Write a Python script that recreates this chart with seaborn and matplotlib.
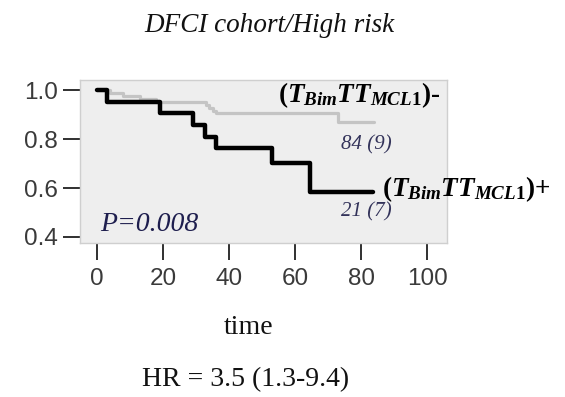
import matplotlib
matplotlib.use("Agg")
import matplotlib.pyplot as plt
import seaborn as sns
import pandas as pd

# ---- data ----
neg_time = [0, 4, 8, 13, 18, 33, 34, 35, 36, 73, 84]
neg_surv = [1.0, 0.988, 0.976, 0.964, 0.952, 0.940, 0.928, 0.916, 0.905, 0.868, 0.868]
pos_time = [0, 3, 19, 29, 32.7, 36, 53, 64.5, 83.5]
pos_surv = [1.0, 0.952, 0.905, 0.857, 0.810, 0.762, 0.702, 0.585, 0.585]
x_ticks = [0, 20, 40, 60, 80, 100]
y_ticks = [0.4, 0.6, 0.8, 1.0]
title = "DFCI cohort/High risk"
xlabel = "time"
hr_text = "HR = 3.5 (1.3-9.4)"
p_text = "P=0.008"
neg_count = "84 (9)"
pos_count = "21 (7)"

df = pd.concat([
    pd.DataFrame({"time": neg_time, "surv": neg_surv, "group": "neg"}),
    pd.DataFrame({"time": pos_time, "surv": pos_surv, "group": "pos"}),
])

sns.set_theme(style="white")
plt.rcParams["mathtext.fontset"] = "custom"
plt.rcParams["mathtext.it"] = "Liberation Serif:italic:bold"
plt.rcParams["mathtext.rm"] = "Liberation Serif:bold"
plt.rcParams["mathtext.bf"] = "Liberation Serif:bold"

fig = plt.figure(figsize=(5.65, 3.97), dpi=100)
ax = fig.add_axes([80/565, 1-243/397, (447-80)/565, (243-80)/397])
ax.set_facecolor("#eeeeee")

sns.lineplot(data=df[df.group == "neg"], x="time", y="surv", ax=ax,
             color="#c4c4c4", lw=2.3, drawstyle="steps-post", estimator=None)
sns.lineplot(data=df[df.group == "pos"], x="time", y="surv", ax=ax,
             color="black", lw=3.2, drawstyle="steps-post", estimator=None)

ax.set_xlim(-5.15, 106)
ax.set_ylim(0.3755, 1.041)
ax.set_xticks(x_ticks)
ax.set_yticks(y_ticks)
ax.set_xticklabels([str(v) for v in x_ticks])
ax.set_yticklabels([f"{v:.1f}" for v in y_ticks])
ax.set_xlabel("")
ax.set_ylabel("")
tickfont = ["Liberation Sans", "DejaVu Sans"]
for lab in ax.get_xticklabels() + ax.get_yticklabels():
    lab.set_family(tickfont)
    lab.set_fontsize(17.5)
    lab.set_color("#3a3a3a")
ax.tick_params(axis="both", direction="out", length=12, width=1.3, color="#202020",
               left=True, bottom=True)
ax.tick_params(axis="y", pad=4)
ax.tick_params(axis="x", pad=6)
for s in ax.spines.values():
    s.set_color("#cfcfcf")
    s.set_linewidth(1.0)

serif = ["Liberation Serif", "DejaVu Serif"]
ax.text(54.8, 0.978, r"$(T_{Bim}TT_{MCL1})$-", ha="left", va="center",
        fontsize=19.5, fontweight="bold", family=serif, color="black")
ax.text(86.4, 0.594, r"$(T_{Bim}TT_{MCL1})$+", ha="left", va="center",
        fontsize=19.5, fontweight="bold", family=serif, color="black", clip_on=False)
ax.text(81.5, 0.776, neg_count, ha="center", va="center", fontsize=15,
        style="italic", family=serif, color="#33335a")
ax.text(81.5, 0.502, pos_count, ha="center", va="center", fontsize=15,
        style="italic", family=serif, color="#33335a")
ax.text(15.8, 0.453, p_text, ha="center", va="center", fontsize=20,
        style="italic", family=serif, color="#1e1e4e")

fig.text(269/565, 1-25/397, title, ha="center", va="center", fontsize=19.5,
         style="italic", family=serif, color="#111111")
fig.text(249/565, 1-328/397, xlabel, ha="center", va="center", fontsize=20,
         family=serif, color="#111111")
fig.text(246/565, 1-380/397, hr_text, ha="center", va="center", fontsize=20,
         family=serif, color="#111111")

fig.savefig("out.png", dpi=100)
